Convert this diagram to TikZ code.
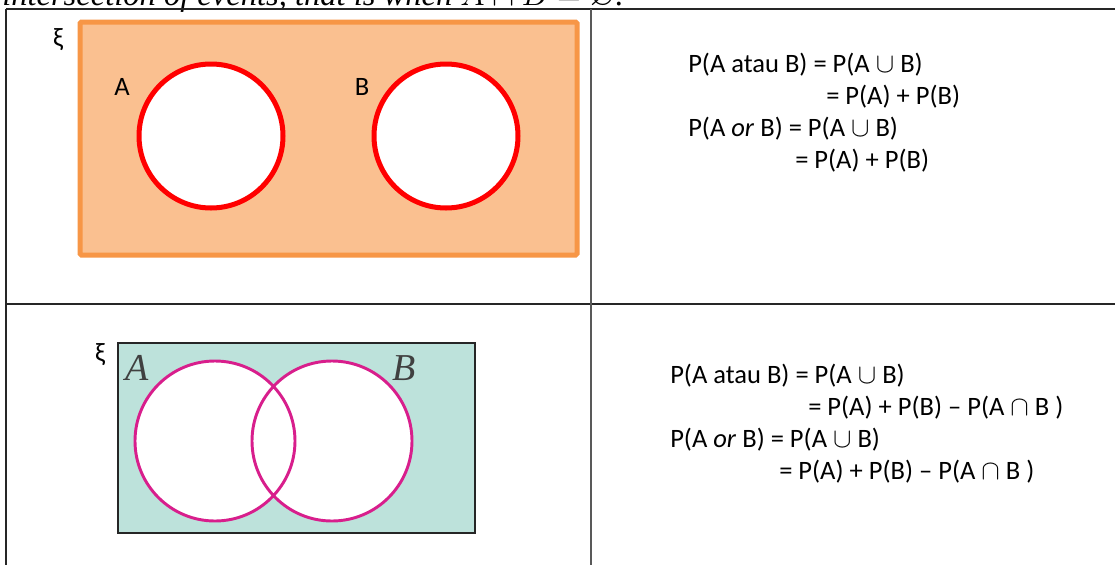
\documentclass[tikz,border=0pt]{standalone}
\usepackage{amsmath,amssymb}
\usepackage{fontspec}
\setmainfont{Carlito}
\newfontfamily\timesfont{Liberation Serif}
\usepackage{tikz}

\definecolor{boxorange}{RGB}{247,150,70}
\definecolor{fillorange}{RGB}{250,192,144}
\definecolor{venngreen}{RGB}{189,226,219}
\definecolor{vennpink}{RGB}{216,30,140}

\begin{document}
\begin{tikzpicture}[x=0.75pt, y=-0.75pt,
	every node/.style={inner sep=0pt, font=\fontsize{19.9}{24}\selectfont},
	rule/.style={line width=0.9pt, black!85},
	eqline/.style={anchor=base west},
	setlabel/.style={font=\timesfont\itshape\fontsize{28.5}{30}\selectfont, black!75}]
	\useasboundingbox (0,0) rectangle (1115,565);
	\clip (0,0) rectangle (1115,565);
	\fill[white] (0,0) rectangle (1115,565);
	\node[anchor=base west, font=\timesfont\itshape\fontsize{24.4}{28}\selectfont] (head) at (2,5) {intersection of events, that is when $A\cap B=\varnothing$.};
	\draw[rule] (6,9) -- (1115,9);
	\draw[rule] (6,9) -- (6,565);
	\draw[rule] (6,304) -- (1115,304);
	\draw[rule, black!65, line width=1.5pt] (591,9) -- (591,565);
	\draw[boxorange, fill=fillorange, line width=3.75pt, rounded corners=1pt] (80,22) rectangle (577,255);
	\foreach \cx in {211,446} {
		\draw[red, fill=white, line width=3.75pt] (\cx,136) circle[radius=72];
	}
	\node (xiTop) at (58,40) {ξ};
	\node (lblA) at (122,87) {A};
	\node (lblB) at (362,87) {B};
	\draw[black!85, fill=venngreen, line width=1.1pt] (118,343) rectangle (475,533);
	\fill[white] (215,441) circle[radius=80] (332,441) circle[radius=80];
	\draw[vennpink, line width=2.2pt] (215,441) circle[radius=80] (332,441) circle[radius=80];
	\node (xiBot) at (100,355) {ξ};
	\node[setlabel] (setA) at (137,368) {A};
	\node[setlabel] (setB) at (404,368) {B};
	\node[eqline] (topOne) at (688,72) {P(A atau B) = P(A $\cup$ B)};
	\node[eqline] (topTwo) at (826,104) {= P(A) + P(B)};
	\node[eqline] (topThree) at (688,136) {P(A \textit{or} B) = P(A $\cup$ B)};
	\node[eqline] (topFour) at (795,168) {= P(A) + P(B)};
	\node[eqline] (botOne) at (670,383) {P(A atau B) = P(A $\cup$ B)};
	\node[eqline] (botTwo) at (808,415) {= P(A) + P(B) -- P(A $\cap$ B )};
	\node[eqline] (botThree) at (670,447) {P(A \textit{or} B) = P(A $\cup$ B)};
	\node[eqline] (botFour) at (779,479) {= P(A) + P(B) -- P(A $\cap$ B )};
\end{tikzpicture}
\end{document}
